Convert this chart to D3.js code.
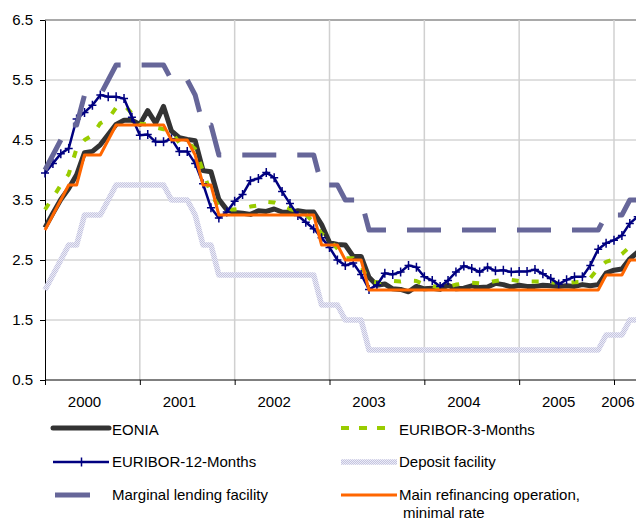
<!DOCTYPE html>
<html>
<head>
<meta charset="utf-8">
<script src="https://cdn.jsdelivr.net/npm/d3@7/dist/d3.min.js"></script>
<style>
  body { margin: 0; background: #fff; }
  svg { display: block; font-family: "Liberation Sans", Arial, sans-serif; }
</style>
</head>
<body>
<script>
// monthly values, Jan 2000 .. Apr 2006
var eonia = [
  3.04, 3.28, 3.51, 3.69, 3.92, 4.29, 4.31, 4.42, 4.59, 4.76, 4.83, 4.83,
  4.76, 4.99, 4.78, 5.06, 4.65, 4.54, 4.51, 4.49, 3.99, 3.97, 3.51, 3.34,
  3.29, 3.28, 3.26, 3.32, 3.31, 3.35, 3.30, 3.29, 3.32, 3.30, 3.30, 3.09,
  2.79, 2.76, 2.75, 2.56, 2.56, 2.21, 2.08, 2.10, 2.02, 2.01, 1.97, 2.06,
  2.02, 2.03, 2.01, 2.08, 2.02, 2.03, 2.07, 2.04, 2.05, 2.11, 2.09, 2.05,
  2.08, 2.06, 2.06, 2.08, 2.07, 2.06, 2.07, 2.06, 2.09, 2.07, 2.09, 2.28,
  2.33, 2.35, 2.52, 2.63
];
var euribor3 = [
  3.34, 3.54, 3.75, 3.93, 4.36, 4.50, 4.58, 4.78, 4.85, 5.04, 5.09, 4.94,
  4.77, 4.76, 4.71, 4.68, 4.64, 4.45, 4.47, 4.35, 3.98, 3.60, 3.39, 3.34,
  3.34, 3.36, 3.39, 3.41, 3.47, 3.46, 3.41, 3.35, 3.31, 3.26, 3.12, 2.94,
  2.83, 2.69, 2.53, 2.53, 2.40, 2.15, 2.13, 2.14, 2.15, 2.14, 2.16, 2.15,
  2.09, 2.07, 2.03, 2.05, 2.09, 2.11, 2.12, 2.11, 2.12, 2.15, 2.17, 2.17,
  2.15, 2.14, 2.14, 2.14, 2.13, 2.11, 2.12, 2.13, 2.14, 2.20, 2.36, 2.47,
  2.51, 2.60, 2.72, 2.79
];
var euribor12 = [
  3.95, 4.11, 4.27, 4.36, 4.85, 4.96, 5.08, 5.25, 5.22, 5.22, 5.19, 4.88,
  4.58, 4.59, 4.47, 4.47, 4.52, 4.31, 4.31, 4.11, 3.77, 3.37, 3.20, 3.30,
  3.48, 3.59, 3.82, 3.86, 3.96, 3.87, 3.64, 3.44, 3.24, 3.13, 3.02, 2.87,
  2.71, 2.50, 2.41, 2.45, 2.26, 2.01, 2.08, 2.28, 2.26, 2.30, 2.41, 2.38,
  2.22, 2.16, 2.06, 2.16, 2.30, 2.40, 2.36, 2.30, 2.38, 2.32, 2.33, 2.30,
  2.31, 2.31, 2.34, 2.27, 2.19, 2.10, 2.17, 2.22, 2.22, 2.41, 2.68, 2.78,
  2.83, 2.91, 3.11, 3.22
];
var deposit = [
  2.00, 2.25, 2.50, 2.75, 2.75, 3.25, 3.25, 3.25, 3.50, 3.75, 3.75, 3.75,
  3.75, 3.75, 3.75, 3.75, 3.50, 3.50, 3.50, 3.25, 2.75, 2.75, 2.25, 2.25,
  2.25, 2.25, 2.25, 2.25, 2.25, 2.25, 2.25, 2.25, 2.25, 2.25, 2.25, 1.75,
  1.75, 1.75, 1.50, 1.50, 1.50, 1.00, 1.00, 1.00, 1.00, 1.00, 1.00, 1.00,
  1.00, 1.00, 1.00, 1.00, 1.00, 1.00, 1.00, 1.00, 1.00, 1.00, 1.00, 1.00,
  1.00, 1.00, 1.00, 1.00, 1.00, 1.00, 1.00, 1.00, 1.00, 1.00, 1.00, 1.25,
  1.25, 1.25, 1.50, 1.50
];
var marginal = [
  4.00, 4.25, 4.50, 4.75, 4.75, 5.25, 5.25, 5.25, 5.50, 5.75, 5.75, 5.75,
  5.75, 5.75, 5.75, 5.75, 5.50, 5.50, 5.50, 5.25, 4.75, 4.75, 4.25, 4.25,
  4.25, 4.25, 4.25, 4.25, 4.25, 4.25, 4.25, 4.25, 4.25, 4.25, 4.25, 3.75,
  3.75, 3.75, 3.50, 3.50, 3.50, 3.00, 3.00, 3.00, 3.00, 3.00, 3.00, 3.00,
  3.00, 3.00, 3.00, 3.00, 3.00, 3.00, 3.00, 3.00, 3.00, 3.00, 3.00, 3.00,
  3.00, 3.00, 3.00, 3.00, 3.00, 3.00, 3.00, 3.00, 3.00, 3.00, 3.00, 3.25,
  3.25, 3.25, 3.50, 3.50
];
var mro = [
  3.00, 3.25, 3.50, 3.75, 3.75, 4.25, 4.25, 4.25, 4.50, 4.75, 4.75, 4.75,
  4.75, 4.75, 4.75, 4.75, 4.50, 4.50, 4.50, 4.25, 3.75, 3.75, 3.25, 3.25,
  3.25, 3.25, 3.25, 3.25, 3.25, 3.25, 3.25, 3.25, 3.25, 3.25, 3.25, 2.75,
  2.75, 2.75, 2.50, 2.50, 2.50, 2.00, 2.00, 2.00, 2.00, 2.00, 2.00, 2.00,
  2.00, 2.00, 2.00, 2.00, 2.00, 2.00, 2.00, 2.00, 2.00, 2.00, 2.00, 2.00,
  2.00, 2.00, 2.00, 2.00, 2.00, 2.00, 2.00, 2.00, 2.00, 2.00, 2.00, 2.25,
  2.25, 2.25, 2.50, 2.50
];

var yearLabels = ["2000", "2001", "2002", "2003", "2004", "2005", "2006"];
var yearLabelMonth = [5, 17, 29, 41, 53, 65, 72.5];
var yearTickMonth = [0, 12, 24, 36, 48, 60, 72];
var yTicks = [0.5, 1.5, 2.5, 3.5, 4.5, 5.5, 6.5];

var width = 636, height = 520;

var x = d3.scaleLinear().domain([0, 72]).range([45, 614]);
var y = d3.scaleLinear().domain([0.5, 6.5]).range([380, 20]);

var svg = d3
  .select("body")
  .append("svg")
  .attr("width", width)
  .attr("height", height);

// hatched stroke for the deposit facility
var pat = svg
  .append("defs")
  .append("pattern")
  .attr("id", "depo")
  .attr("patternUnits", "userSpaceOnUse")
  .attr("width", 2)
  .attr("height", 2);
pat.append("rect").attr("width", 2).attr("height", 2).attr("fill", "#ececf6");
pat.append("rect").attr("width", 1).attr("height", 1).attr("fill", "#c4c4e0");
pat.append("rect").attr("x", 1).attr("y", 1).attr("width", 1).attr("height", 1).attr("fill", "#c4c4e0");

// grid
svg
  .append("g")
  .selectAll("line")
  .data(yTicks.slice(1))
  .enter()
  .append("line")
  .attr("x1", x(0))
  .attr("x2", width)
  .attr("y1", function (d) { return y(d); })
  .attr("y2", function (d) { return y(d); })
  .style("stroke", function (d) { return d === 6.5 ? "#8c8c8c" : "#c0c0c0"; })
  .style("stroke-width", function (d) { return d === 6.5 ? 1.5 : 1; });

svg
  .append("g")
  .selectAll("line")
  .data(yearTickMonth.slice(1))
  .enter()
  .append("line")
  .attr("x1", function (d) { return x(d); })
  .attr("x2", function (d) { return x(d); })
  .attr("y1", y(6.5))
  .attr("y2", y(0.5))
  .style("stroke", "#d0d0d0")
  .style("stroke-width", 1.5);

// axes
var yAxis = d3.axisLeft(y).tickValues(yTicks).tickFormat(d3.format(".1f")).tickSize(5).tickSizeOuter(0).tickPadding(7);
var xAxis = d3.axisBottom(x).tickValues(yearTickMonth).tickFormat("").tickSize(5).tickSizeOuter(0);

svg
  .append("g")
  .attr("transform", "translate(0," + y(0.5) + ")")
  .call(xAxis)
  .call(function (g) {
    g.select(".domain").attr("d", "M" + x(0) + ",0H" + width);
  });

svg
  .append("g")
  .attr("transform", "translate(" + x(0) + ",0)")
  .call(yAxis)
  .selectAll("text")
  .style("font-size", "15px")
  .style("font-family", "'Liberation Sans', Arial, sans-serif")
  .attr("fill", "#000");

svg.selectAll(".tick line, .domain").style("stroke", "#000");

svg
  .append("g")
  .selectAll("text")
  .data(yearLabels)
  .enter()
  .append("text")
  .attr("x", function (d, i) { return x(yearLabelMonth[i]); })
  .attr("y", 407)
  .attr("text-anchor", "middle")
  .style("font-size", "15px")
  .text(function (d) { return d; });

// series
var line = d3
  .line()
  .x(function (d, i) { return x(i); })
  .y(function (d) { return y(d); });

var series = [
  { name: "EONIA", values: eonia, color: "#333333", w: 5, dash: null },
  { name: "EURIBOR-3-Months", values: euribor3, color: "#99cc00", w: 4, dash: "7,13" },
  { name: "EURIBOR-12-Months", values: euribor12, color: "#000080", w: 2.5, dash: null },
  { name: "Deposit facility", values: deposit, color: "url(#depo)", w: 5.5, dash: null },
  { name: "Marginal lending facility", values: marginal, color: "#666699", w: 5, dash: "34,21" },
  { name: "Main refinancing operation,", values: mro, color: "#ff6600", w: 3, dash: null }
];

var plot = svg.append("g");

series.forEach(function (s) {
  plot
    .append("path")
    .datum(s.values)
    .attr("d", line)
    .style("fill", "none")
    .style("stroke", s.color)
    .style("stroke-width", s.w)
    .style("stroke-linejoin", "round")
    .style("stroke-dasharray", s.dash);
  if (s.name === "EURIBOR-12-Months") {
    plot
      .selectAll(".mk")
      .data(s.values)
      .enter()
      .append("path")
      .attr("class", "mk")
      .attr("transform", function (d, i) { return "translate(" + x(i) + "," + y(d) + ")"; })
      .attr("d", "M-4,0H4M0,-4.5V4.5")
      .style("stroke", "#000080")
      .style("stroke-width", 1.5);
  }
});

// legend
var legendPos = [
  [53, 428], [341, 428],
  [53, 462], [341, 462],
  [53, 495], [341, 495]
];

var legend = svg
  .selectAll(".legend")
  .data(series)
  .enter()
  .append("g")
  .attr("class", "legend")
  .attr("transform", function (d, i) {
    return "translate(" + legendPos[i][0] + "," + legendPos[i][1] + ")";
  });

legend
  .append("line")
  .attr("x1", function (d) { return d.name === "Marginal lending facility" ? 2 : 0; })
  .attr("x2", function (d) {
    if (d.name === "Marginal lending facility") return 37;
    if (d.name === "EURIBOR-3-Months") return 48;
    return 56;
  })
  .attr("y1", 0)
  .attr("y2", 0)
  .style("stroke", function (d) { return d.color; })
  .style("stroke-width", function (d) { return d.w; })
  .style("stroke-linecap", function (d) { return d.name === "EONIA" ? "round" : "butt"; })
  .style("stroke-dasharray", function (d) { return d.name === "EURIBOR-3-Months" ? "8,10" : null; });

legend
  .filter(function (d) { return d.name === "EURIBOR-12-Months"; })
  .append("path")
  .attr("d", "M28.5,-4.5V4.5")
  .style("stroke", "#000080")
  .style("stroke-width", 1.5);

legend
  .append("text")
  .attr("x", function (d, i) { return i % 2 === 0 ? 59 : 58; })
  .attr("y", function (d, i) { return i < 2 ? 7 : 5; })
  .style("font-size", "15px")
  .text(function (d) { return d.name; });

legend
  .filter(function (d) { return d.name === "Main refinancing operation,"; })
  .append("text")
  .attr("x", 62)
  .attr("y", 23)
  .style("font-size", "15px")
  .text("minimal rate");
</script>
</body>
</html>
